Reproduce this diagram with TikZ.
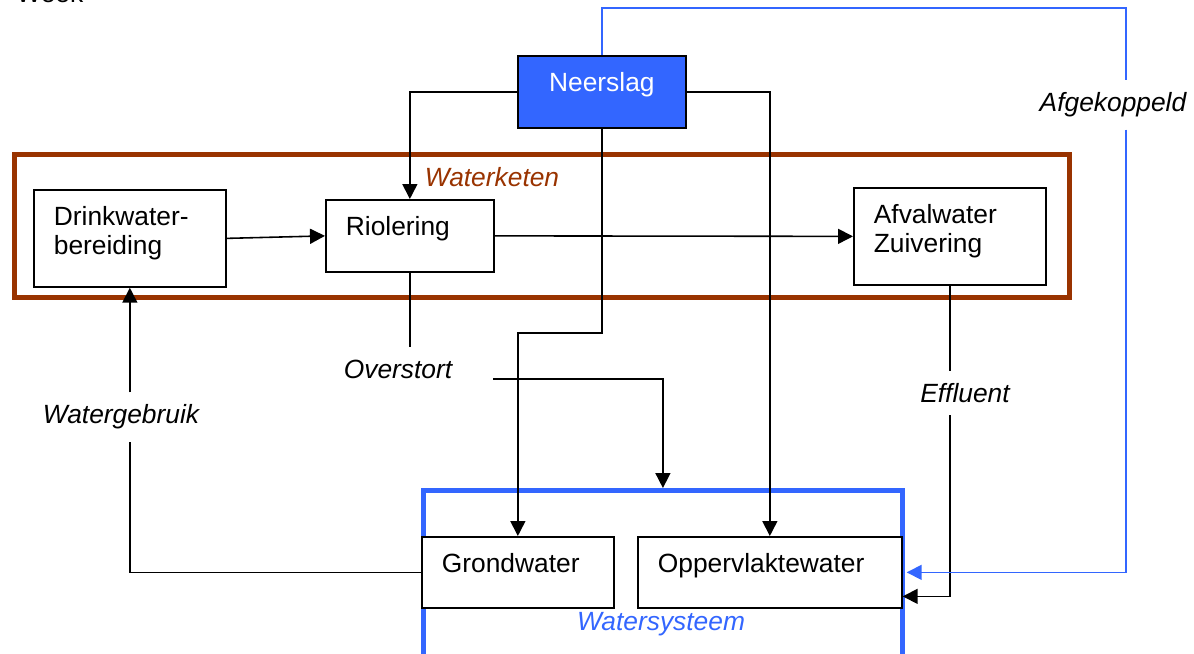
\documentclass[tikz,border=0pt]{standalone}
\usepackage{fontspec}
\setmainfont{Liberation Sans}
\usetikzlibrary{arrows.meta, positioning}
\definecolor{ketenbruin}{RGB}{153, 51, 0}
\definecolor{systeemblauw}{RGB}{51, 102, 255}

\begin{document}
\begin{tikzpicture}[
  x=0.02cm, y=-0.02cm,
  every node/.style={font=\fontsize{15pt}{16.5pt}\selectfont},
  blok/.style={draw, line width=1pt, fill=white, anchor=north west, align=left, inner xsep=0.4cm, inner ysep=0.33cm, text height=0.38cm},
  kader/.style={draw=#1, line width=2.8pt, anchor=north west, inner sep=0pt},
  kadertekst/.style={font=\fontsize{15pt}{16.5pt}\selectfont\itshape, inner sep=0pt},
  stroomtekst/.style={font=\fontsize{15pt}{16.5pt}\selectfont\itshape, inner sep=0.24cm},
  arrow/.style={-{Triangle[length=0.3cm, width=0.3cm]}, line width=0.9pt},
  lijn/.style={line width=0.9pt}
]
  \useasboundingbox (0,0) rectangle (1194,653);
  \node[anchor=base west, inner sep=0pt] (kop) at (16,2) {Week};

  % Kaders
  \node[kader=ketenbruin, minimum width=21.1cm, minimum height=2.86cm] (keten) at (12,152) {};
  \node[kader=systeemblauw, minimum width=9.58cm, minimum height=3.6cm] (systeem) at (421,488) {};
  \node[kadertekst, text=ketenbruin] (ketentekst) at (492,177) {Waterketen};
  \node[kadertekst, text=systeemblauw] (systeemtekst) at (661,624) {Watersysteem};

  % Blokken
  \node[blok, fill=systeemblauw, text=white, align=center, text width=2.56cm, text depth=0.4cm] (neerslag) at (517,55) {Neerslag};
  \node[blok, text width=3.04cm, text depth=0.9cm] (drink) at (33,189) {Drinkwater-\\bereiding};
  \node[blok, text width=2.56cm, text depth=0.4cm] (riool) at (325,199) {Riolering};
  \node[blok, text width=3.04cm, text depth=0.9cm] (afval) at (853,187) {Afvalwater\\Zuivering};
  \node[blok, text width=3.04cm, text depth=0.38cm] (grond) at (421,536) {Grondwater};
  \node[blok, text width=4.48cm, text depth=0.38cm] (opper) at (637,536) {Oppervlaktewater};

  % Stromen
  \node[stroomtekst] (afgekoppeld) at (1113,105) {Afgekoppeld};
  \node[stroomtekst] (effluent) at (965,393) {Effluent};
  \node[stroomtekst] (overstort) at (398,369) {Overstort};
  \node[stroomtekst] (watergebruik) at (121,417) {Watergebruik};
  \coordinate (bocht) at (1126,8);
  \coordinate (overloop) at (493,379);

  \draw[arrow] (neerslag.west) -| (riool.north);
  \draw[arrow] (neerslag.east) -| (opper.north);
  \draw[arrow] (neerslag.south) -- ++(0,204) -| (grond.north);
  \draw[arrow] (drink.east) -- (riool.west);
  \draw[arrow] (riool.east) -- (afval.west);
  \draw[lijn] (riool.south) -- (riool.south |- overstort.north);
  \draw[arrow] (overloop) -| (systeem.north);
  \draw[lijn] (afval.south) -- (afval.south |- effluent.north);
  \draw[arrow] (afval.south |- effluent.south) |- ([yshift=-0.48cm]opper.east);
  \draw[lijn] (grond.west) -| (drink.south |- watergebruik.south);
  \draw[arrow] (drink.south |- watergebruik.north) -- (drink.south);
  \draw[lijn, systeemblauw] (neerslag.north) |- (bocht) -- (bocht |- afgekoppeld.north);
  \draw[arrow, systeemblauw] (bocht |- afgekoppeld.south) |- ([xshift=0.08cm]opper.east);
\end{tikzpicture}
\end{document}
